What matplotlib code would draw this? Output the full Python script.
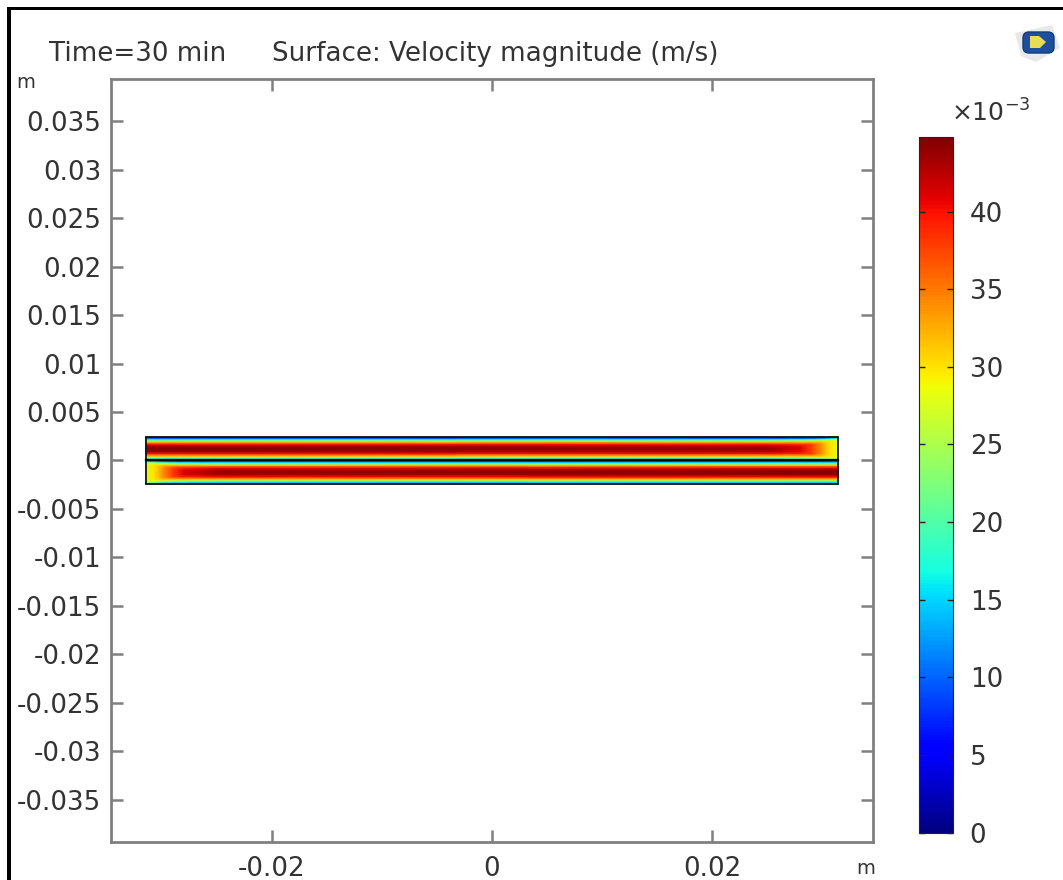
import numpy as np
import matplotlib
matplotlib.use('Agg')
import matplotlib.pyplot as plt
from matplotlib.patches import FancyBboxPatch, Polygon, Rectangle

W, H = 1063, 880

# Tick values and labels
x_ticks = [-0.02, 0, 0.02]
x_tick_labels = ['-0.02', '0', '0.02']
y_ticks = [0.035, 0.03, 0.025, 0.02, 0.015, 0.01, 0.005, 0,
           -0.005, -0.01, -0.015, -0.02, -0.025, -0.03, -0.035]
y_tick_labels = ['0.035', '0.03', '0.025', '0.02', '0.015', '0.01', '0.005', '0',
                 '-0.005', '-0.01', '-0.015', '-0.02', '-0.025', '-0.03', '-0.035']
cbar_ticks = [0, 5, 10, 15, 20, 25, 30, 35, 40]

# Channel geometry (m)
channel_half_length = 0.0315
channel_height = 0.0024

# Velocity (x 1e-3 m/s): distance from the inlet,
# position across the channel (0 = wall, 1 = other wall)
inlet_dist = [0.0, 0.0008, 0.0016, 0.0025, 0.0035, 0.0065, 0.063]
cross_pos = [0, 0.04, 0.08, 0.14, 0.2, 0.3, 0.4, 0.5, 0.6, 0.7, 0.8, 0.86, 0.92, 0.96, 1]
speed_rows = [
    [0, 20, 26, 28, 28, 28, 28, 28, 28, 28, 28, 28, 26, 20, 0],
    [0, 15, 24, 28, 30, 30, 30, 30, 30, 30, 30, 28, 24, 15, 0],
    [0, 12, 20, 27, 32, 34, 34, 34, 34, 34, 32, 27, 20, 12, 0],
    [0, 11, 18, 26, 32, 38, 38, 38, 38, 38, 32, 26, 18, 11, 0],
    [0, 10, 17, 25, 32, 39, 41, 41, 41, 39, 32, 25, 17, 10, 0],
    [0, 10, 16, 24, 32, 40, 43, 44, 43, 40, 32, 24, 16, 10, 0],
    [0, 10, 16, 24, 32, 40, 44, 44.5, 44, 40, 32, 24, 16, 10, 0],
]

fig = plt.figure(figsize=(W / 100, H / 100), dpi=100, facecolor='white')


def px_axes(left, top, right, bottom):
    return fig.add_axes([left / W, 1 - bottom / H, (right - left) / W, (bottom - top) / H])


def px_text(x, y, s, **kw):
    kw.setdefault('color', '#333333')
    kw.setdefault('fontsize', 18.8)
    kw.setdefault('va', 'center')
    fig.text(x / W, 1 - y / H, s, **kw)


# Main plot
ax = px_axes(111, 79, 873, 842)
ax.set_xlim(-0.03464, 0.03464)
ax.set_ylim(-0.03933, 0.03933)

speed = np.array(speed_rows)
dist = np.array(inlet_dist)
across = np.array(cross_pos) * channel_height

# lower channel runs left to right, upper one right to left
mesh = ax.pcolormesh(-channel_half_length + dist, across - channel_height, speed.T,
                     cmap='jet', vmin=0, vmax=44.8, shading='gouraud', zorder=2)
ax.pcolormesh(channel_half_length - dist, across, speed.T,
              cmap='jet', vmin=0, vmax=44.8, shading='gouraud', zorder=2)

ax.add_patch(Rectangle((-channel_half_length, -channel_height), 2 * channel_half_length,
                       2 * channel_height, fill=False, edgecolor='#151515', lw=1.3, zorder=3))
ax.plot([-channel_half_length, channel_half_length], [0, 0], color='black', lw=1.6, zorder=3)

ax.set_xticks(x_ticks)
ax.set_xticklabels(x_tick_labels)
ax.set_yticks(y_ticks)
ax.set_yticklabels(y_tick_labels)
ax.tick_params(direction='in', length=8.5, width=1.8, color='#808080', labelcolor='#333333',
               labelsize=18.8, top=True, right=True, pad=7)
ax.tick_params(axis='x', pad=10)
for spine in ax.spines.values():
    spine.set_color('#808080')
    spine.set_linewidth(2)

# Colour bar
cax = px_axes(919, 137, 953, 832.5)
cbar = fig.colorbar(mesh, cax=cax, ticks=cbar_ticks)
cax.yaxis.set_ticks_position('both')
cax.tick_params(direction='in', length=4.5, width=1, color='#222222', labelcolor='#333333',
                labelsize=18.8, left=True, right=True, labelleft=False, labelright=True, pad=12)
cbar.outline.set_edgecolor('#222222')
cbar.outline.set_linewidth(0.8)

# Texts
px_text(49, 54, 'Time=30 min')
px_text(272, 54, 'Surface: Velocity magnitude (m/s)')
px_text(16, 82, 'm', fontsize=14)
px_text(856, 868, 'm', fontsize=14)
px_text(951, 113, '×10$^{-3}$', fontsize=18)

# Screenshot border: left and top only
fig.add_artist(Rectangle((7 / W, 0), 4 / W, 1 - 7 / H, transform=fig.transFigure,
                         facecolor='black', edgecolor='none'))
fig.add_artist(Rectangle((7 / W, 1 - 10.5 / H), 1 - 7 / W, 3.5 / H, transform=fig.transFigure,
                         facecolor='black', edgecolor='none'))

# Logo at the top right
logo = px_axes(1010, 20, 1063, 65)
logo.set_xlim(1010, 1063)
logo.set_ylim(65, 20)
logo.axis('off')
logo.add_patch(Polygon([[1015, 33], [1052, 25], [1060, 48], [1036, 62], [1021, 56]],
                       facecolor='#e8e8ea', edgecolor='none'))
logo.add_patch(FancyBboxPatch((1023, 32), 31, 21, boxstyle='round,pad=0,rounding_size=6',
                              facecolor='#1c4f9c', edgecolor='#123a78', lw=1))
logo.add_patch(Polygon([[1030, 36], [1039, 36], [1046, 42], [1040, 48], [1030, 48]],
                       facecolor='#e6dc55', edgecolor='none'))

fig.savefig('out.png', dpi=100)
